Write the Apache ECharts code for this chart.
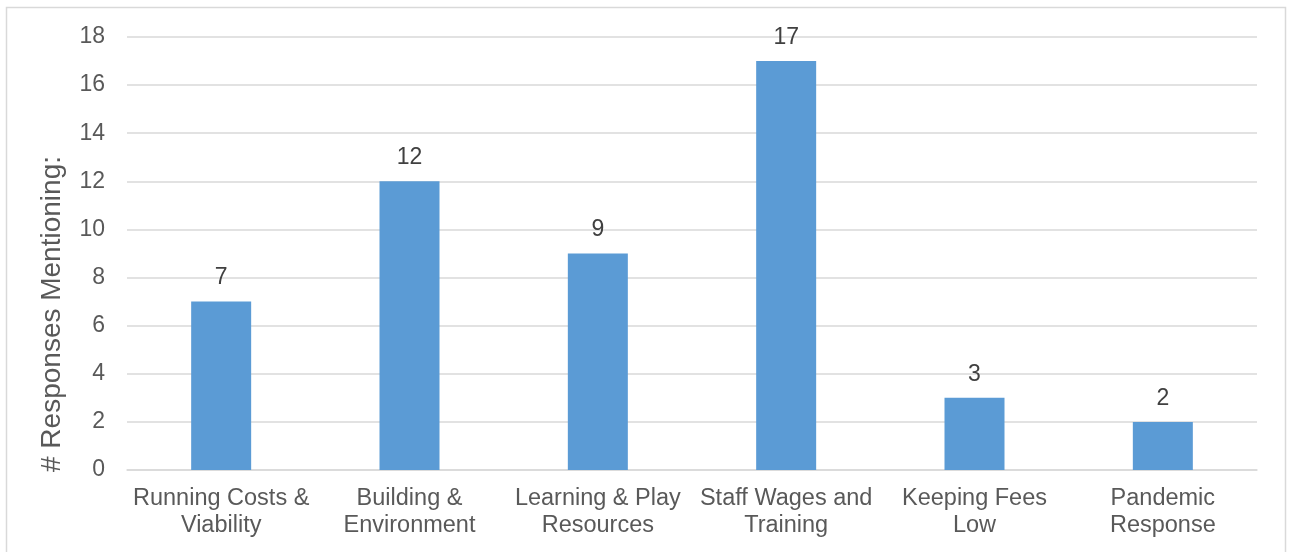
<!DOCTYPE html>
<html>
<head>
<meta charset="utf-8">
<script src="https://cdn.jsdelivr.net/npm/echarts@6/dist/echarts.min.js"></script>
<style>
  html, body { margin: 0; padding: 0; background: #fff; }
  #chart { width: 1289px; height: 552px; }
</style>
</head>
<body>
<div id="chart"></div>
<script>
// Survey areas and how many responses mentioned each
const categories = [
  'Running Costs &\nViability',
  'Building &\nEnvironment',
  'Learning & Play\nResources',
  'Staff Wages and\nTraining',
  'Keeping Fees\nLow',
  'Pandemic\nResponse'
];
const responses = [7, 12, 9, 17, 3, 2];
const yTicks = { min: 0, max: 18, interval: 2 };

const chart = echarts.init(document.getElementById('chart'));
chart.setOption({
  animation: false,
  textStyle: { fontFamily: 'Liberation Sans, Arial, sans-serif' },
  graphic: [{
    type: 'rect',
    shape: { x: 6.5, y: 7.5, width: 1279, height: 560 },
    style: { fill: 'none', stroke: '#d9d9d9', lineWidth: 1.5 },
    silent: true
  }],
  grid: { left: 127, right: 32, top: 37, bottom: 82 },
  xAxis: {
    type: 'category',
    data: categories,
    axisLine: { show: true, lineStyle: { color: '#d9d9d9', width: 1.5 } },
    axisTick: { show: false },
    axisLabel: {
      color: '#595959', fontSize: 23.5, lineHeight: 27, margin: 15, interval: 0
    }
  },
  yAxis: {
    type: 'value',
    min: yTicks.min, max: yTicks.max, interval: yTicks.interval,
    name: '# Responses Mentioning:',
    nameLocation: 'middle',
    nameGap: 61,
    // right padding pushes the rotated title toward the bottom of the axis
    nameTextStyle: { color: '#595959', fontSize: 28, padding: [0, 121, 0, 0] },
    axisLine: { show: false },
    axisTick: { show: false },
    axisLabel: { color: '#595959', fontSize: 23, margin: 22 },
    splitLine: { lineStyle: { color: '#d9d9d9', width: 1.5 } }
  },
  series: [{
    type: 'bar',
    data: responses,
    barWidth: 60,
    itemStyle: { color: '#5b9bd5' },
    label: {
      show: true, position: 'top', distance: 12,
      color: '#404040', fontSize: 23
    }
  }]
});
</script>
</body>
</html>
